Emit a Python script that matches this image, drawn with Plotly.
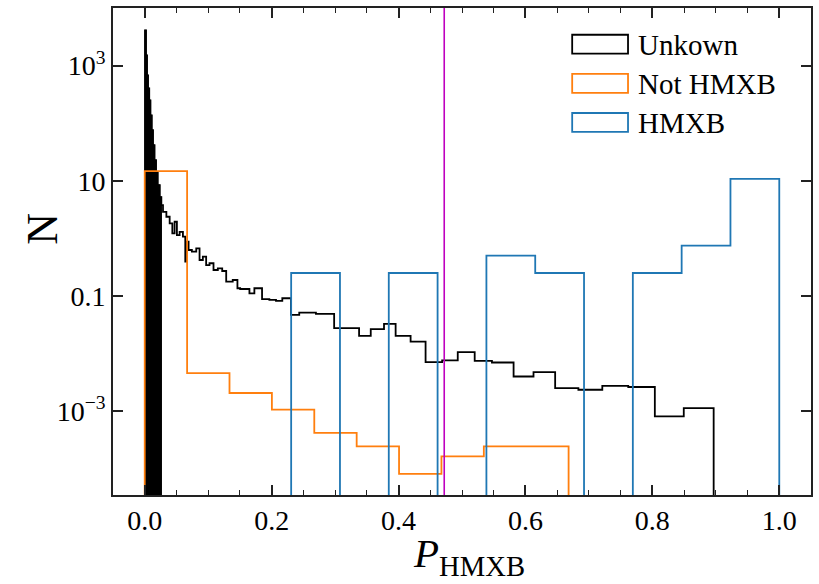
import plotly.graph_objects as go

# ---- Unknown sources (density histogram, non-uniform bins) ----
# Extremely fine bins close to zero: the many empty bins between them make this part solid
unk_spike_edges = [0.0005, 0.0020, 0.0036, 0.0052, 0.0071, 0.0090, 0.0110,
                   0.0130, 0.0154, 0.0178, 0.0204, 0.0236, 0.0262]
unk_spike_vals = [4074, 1502, 676, 403, 249, 137, 75.4, 41.4, 22.7, 14.1, 8.39, 5.20]

unk_edges = [0.0262, 0.0288, 0.0341, 0.0393, 0.0435, 0.0471, 0.0507, 0.0550,
             0.0602, 0.0639, 0.0652, 0.0691, 0.0743, 0.0812, 0.0864, 0.0916,
             0.0968, 0.1021, 0.1084, 0.1152, 0.1221, 0.1284, 0.1387, 0.1461,
             0.1504, 0.1650, 0.1728, 0.1849, 0.1964, 0.2069, 0.2168, 0.2305,
             0.2435, 0.2698, 0.2985, 0.3378, 0.3562, 0.3771, 0.3954, 0.4190,
             0.4426, 0.4687, 0.4933, 0.5200, 0.5472, 0.5813, 0.6127, 0.6468,
             0.6834, 0.7211, 0.7620, 0.8039, 0.8495, 0.8966]
unk_vals = [3.78, 2.89, 2.37, 1.82, 1.22, 1.94, 1.14, 1.30, 1.07, 0.393,
            0.873, 0.627, 0.586, 0.671, 0.421, 0.480, 0.344, 0.369, 0.282, 0.302,
            0.271, 0.177, 0.189, 0.136, 0.132, 0.111, 0.136, 0.0877, 0.0853, 0.0819,
            0.0912, 0.0469, 0.0514, 0.0488, 0.0275, 0.0203, 0.0265, 0.0327, 0.0203, 0.0161,
            0.00710, 0.00757, 0.0106, 0.00747, 0.00698, 0.00399, 0.00476, 0.00251, 0.00235, 0.00275,
            0.00262, 0.000809, 0.00113]

# ---- Known non-HMXB sources: 10 equal bins ----
not_edges = [0.0, 0.0668, 0.1336, 0.2004, 0.2672, 0.3340, 0.4008, 0.4676, 0.5344, 0.6012, 0.6680]
not_vals = [14.7, 0.00457, 0.00206, 0.00106, 0.000417, 0.000244, 8.13e-5, 0.000164, 0.000244, 0.000244]

# ---- Known HMXB: 13 equal bins on [0, 1] ----
hmxb_edges = [k / 13 for k in range(14)]
hmxb_vals = [0, 0, 0, 0.25, 0, 0.25, 0, 0.5, 0.25, 0, 0.25, 0.75, 10.75]

threshold = 0.472

legend_labels = ["Unkown", "Not HMXB", "HMXB"]
BLACK, ORANGE, BLUE, MAGENTA = "#000000", "#ff7f0e", "#1f77b4", "#bf00bf"

FLOOR = 1e-8  # empty bins drop below the visible log range


def step_path(edges, vals):
    """Outline of a step histogram, starting and ending on the floor."""
    v = [y if y > 0 else FLOOR for y in vals]
    xs, ys = [edges[0]], [FLOOR]
    for i, y in enumerate(v):
        xs += [edges[i], edges[i + 1]]
        ys += [y, y]
    xs.append(edges[-1])
    ys.append(FLOOR)
    return xs, ys


fig = go.Figure()

# solid block of the densely binned region near zero
sx, sy = step_path(unk_spike_edges, unk_spike_vals)
fig.add_trace(go.Scatter(x=sx, y=sy, mode="lines", fill="toself", fillcolor=BLACK,
                         line=dict(color=BLACK, width=1.2), hoverinfo="skip",
                         showlegend=False))

all_unk_edges = unk_spike_edges + unk_edges[1:]
all_unk_vals = unk_spike_vals + unk_vals
for edges, vals, color in [(all_unk_edges, all_unk_vals, BLACK),
                           (not_edges, not_vals, ORANGE),
                           (hmxb_edges, hmxb_vals, BLUE)]:
    x, y = step_path(edges, vals)
    fig.add_trace(go.Scatter(x=x, y=y, mode="lines", line=dict(color=color, width=1.8),
                             showlegend=False))

fig.add_shape(type="line", xref="x", yref="paper", x0=threshold, x1=threshold,
              y0=0, y1=1, line=dict(color=MAGENTA, width=1.6))

# plot area in pixels
L, T, W, H = 113, 7, 700, 488


def px(xp):
    return (xp - L) / W


def py(yp):
    return 1 - (yp - T) / H


# legend with rectangular patch handles
for i, (lab, col) in enumerate(zip(legend_labels, [BLACK, ORANGE, BLUE])):
    yc = 43.3 + i * 39.2
    fig.add_shape(type="rect", xref="paper", yref="paper",
                  x0=px(573.5), x1=px(629.5), y0=py(yc + 9.5), y1=py(yc - 9.5),
                  line=dict(color=col, width=1.8), fillcolor="rgba(0,0,0,0)")
    fig.add_annotation(xref="paper", yref="paper", x=px(637), y=py(yc + 1),
                       text=lab, showarrow=False, xanchor="left", yanchor="middle",
                       font=dict(size=29, color="black", family="Liberation Serif"))

# axis labels
fig.add_annotation(xref="paper", yref="paper", x=px(470), y=py(556),
                   text="<i>P</i><sub>HMXB</sub>", showarrow=False,
                   xanchor="center", yanchor="middle",
                   font=dict(size=41, color="black", family="Liberation Serif"))
fig.add_annotation(xref="paper", yref="paper", x=px(42), y=py(228),
                   text="N", textangle=-90, showarrow=False,
                   xanchor="center", yanchor="middle",
                   font=dict(size=44, color="black", family="Liberation Serif"))

xtick_vals = [0.0, 0.2, 0.4, 0.6, 0.8, 1.0]
xtick_text = ["0.0", "0.2", "0.4", "0.6", "0.8", "1.0"]
ytick_vals = [1e-3, 1e-1, 1e1, 1e3]
ytick_text = ["10<sup>−3</sup>", "0.1", "10", "10<sup>3</sup>"]

axis_common = dict(showline=True, linecolor="#222222", linewidth=1.6, mirror="allticks",
                   ticks="inside", ticklen=10, tickwidth=1.5, tickcolor="#222222",
                   showgrid=False, zeroline=False,
                   tickfont=dict(size=28, color="black", family="Liberation Serif"))

fig.update_xaxes(range=[-0.05, 1.05], tickvals=xtick_vals, ticktext=xtick_text,
                 minor=dict(ticks="inside", ticklen=5, tickwidth=1.3, dtick=0.05,
                            tick0=0, tickcolor="#222222", showgrid=False),
                 **axis_common)
fig.update_yaxes(type="log", range=[-4.457, 4.0], tickvals=ytick_vals,
                 ticktext=ytick_text, **axis_common)

fig.update_layout(width=819, height=584, margin=dict(l=L, r=819 - L - W, t=T, b=584 - T - H),
                  paper_bgcolor="white", plot_bgcolor="white", showlegend=False)

fig.write_html("out.html")
